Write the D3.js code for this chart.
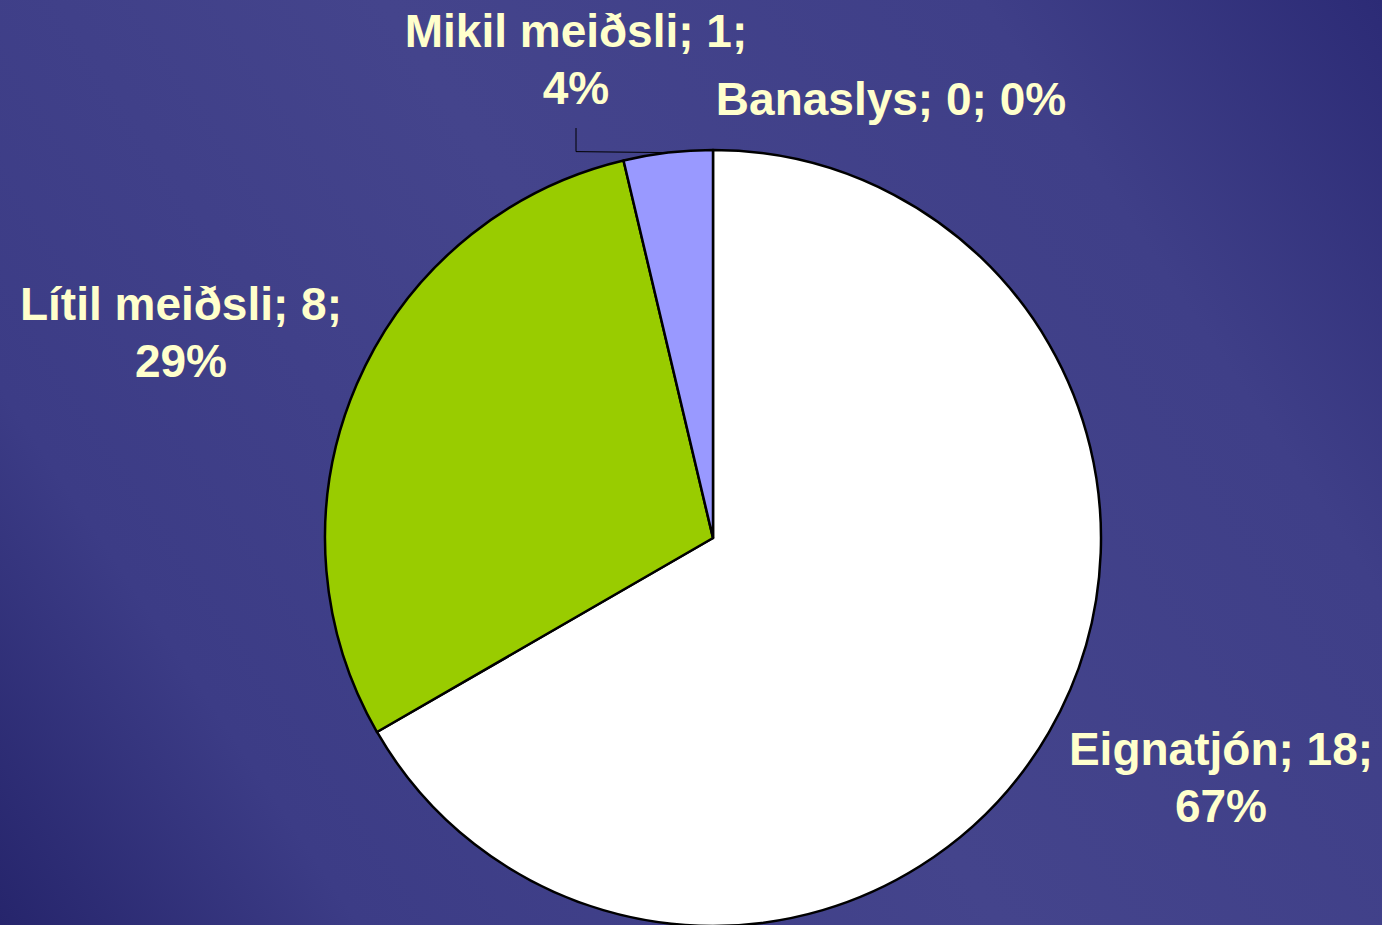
<!DOCTYPE html>
<html>
<head>
<meta charset="utf-8">
<script src="https://cdn.jsdelivr.net/npm/d3@7"></script>
<style>
  html, body { margin: 0; padding: 0; background: #3b3b85; }
  svg { display: block; }
</style>
</head>
<body>
<svg id="chart" width="1382" height="925"></svg>
<script>
// ---- data ----
const categories = ["Eignatjón", "Lítil meiðsli", "Mikil meiðsli", "Banaslys"];
const counts = [18, 8, 1, 0];
const percents = ["67%", "29%", "4%", "0%"];
const colors = ["#ffffff", "#99cc00", "#9999ff", "#993366"];

// ---- layout (not data) ----
const W = 1382, H = 925;
const cx = 713, cy = 538, R = 388;
const labelLayout = {
  "Eignatjón":     { lines: 2, x: 1221, y: 765 },
  "Lítil meiðsli": { lines: 2, x: 181,  y: 320 },
  "Mikil meiðsli": { lines: 2, x: 576,  y: 47 },
  "Banaslys":      { lines: 1, x: 891,  y: 115 }
};
const lineGap = 57;

const svg = d3.select("#chart");
const defs = svg.append("defs");
const grad = defs.append("linearGradient")
  .attr("id", "bg").attr("gradientUnits", "userSpaceOnUse")
  .attr("x1", 0).attr("y1", H).attr("x2", W).attr("y2", 0);
[[0, "#26256c"], [0.18, "#3c3c86"], [0.5, "#44448c"], [0.8, "#3f3f88"], [1, "#2c2b76"]]
  .forEach(([o, c]) => grad.append("stop").attr("offset", o).attr("stop-color", c));
svg.append("rect").attr("width", W).attr("height", H).attr("fill", "url(#bg)");

const data = categories.map((c, i) => ({ name: c, value: counts[i], pct: percents[i], color: colors[i] }));

const pie = d3.pie().value(d => d.value).sort(null).startAngle(0).endAngle(2 * Math.PI);
const arcs = pie(data);
const arc = d3.arc().innerRadius(0).outerRadius(R);

const g = svg.append("g").attr("transform", `translate(${cx},${cy})`);
g.selectAll("path.slice")
  .data(arcs.filter(a => a.value > 0))
  .join("path")
  .attr("class", "slice")
  .attr("d", arc)
  .attr("fill", d => d.data.color)
  .attr("stroke", "#000")
  .attr("stroke-width", 2.5)
  .attr("stroke-linejoin", "round");

// leader line for the small slice
const small = arcs.find(a => a.data.name === "Mikil meiðsli");
const mid = (small.startAngle + small.endAngle) / 2;
const px = cx + R * Math.sin(mid), py = cy - R * Math.cos(mid);
const lab = labelLayout["Mikil meiðsli"];
svg.append("polyline")
  .attr("points", `${lab.x},${lab.y + lineGap + 24} ${lab.x},${py - 1} ${px},${py}`)
  .attr("fill", "none").attr("stroke", "#000").attr("stroke-width", 1);

// labels
const labels = svg.append("g")
  .attr("font-family", "'Liberation Sans', Arial, Helvetica, sans-serif")
  .attr("font-weight", "bold")
  .attr("font-size", 46)
  .attr("fill", "#ffffcc")
  .attr("text-anchor", "middle");

data.forEach(d => {
  const L = labelLayout[d.name];
  if (L.lines === 2) {
    labels.append("text").attr("x", L.x).attr("y", L.y).text(`${d.name}; ${d.value};`);
    labels.append("text").attr("x", L.x).attr("y", L.y + lineGap).text(d.pct);
  } else {
    labels.append("text").attr("x", L.x).attr("y", L.y).text(`${d.name}; ${d.value}; ${d.pct}`);
  }
});
</script>
</body>
</html>
